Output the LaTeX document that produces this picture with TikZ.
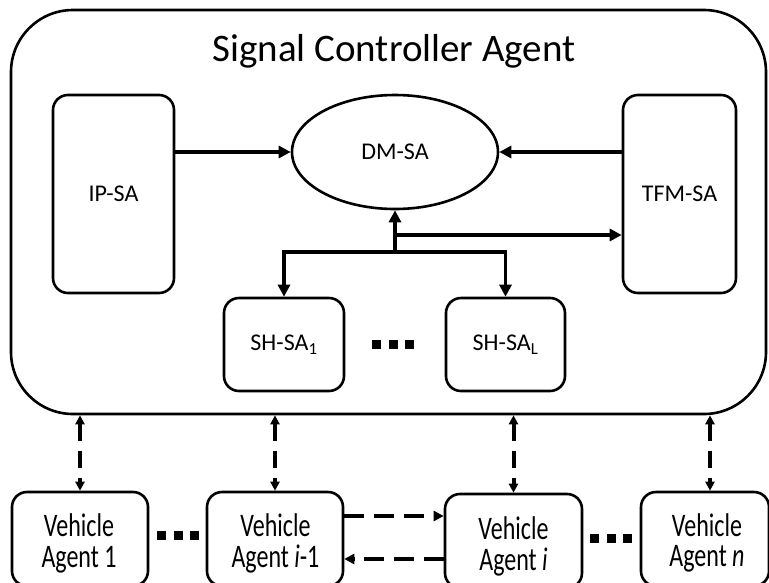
\documentclass[tikz,border=0pt]{standalone}
\usepackage{fontspec}
\setmainfont{Carlito}
\usetikzlibrary{arrows.meta,shapes.geometric}
\newcommand{\vlabel}[1]{\scalebox{1}[1.37]{\begin{tabular}{@{}c@{}}#1\end{tabular}}}
\begin{document}
\begin{tikzpicture}[x=1pt,y=-1pt,
  box/.style={draw, line width=2.6pt, rounded corners=15pt, inner sep=0pt},
  lbl/.style={font=\fontsize{24}{30}\selectfont, align=center},
  vtxt/.style={font=\fontsize{24}{21.7}\selectfont, inner sep=0pt},
  sarrow/.style={line width=3.5pt, -{Triangle[length=12pt,width=12pt]}},
  darrow/.style={line width=4pt, dash pattern=on 17pt off 10pt,
    {Triangle[length=9pt,width=9pt]}-{Triangle[length=9pt,width=9pt]}},
  harrow/.style={line width=4pt, dash pattern=on 20pt off 10pt,
    -{Triangle[length=10pt,width=10pt]}},
  dotsq/.style={fill=black}
]
\useasboundingbox (0,0) rectangle (769,582);
% outer agent
\node[draw, line width=2.6pt, rounded corners=62pt, minimum width=755pt,
      minimum height=404pt, inner sep=0pt] (outer) at (388.5,212) {};
\node[font=\fontsize{39}{45}\selectfont, anchor=base] (title) at (394,61) {Signal Controller Agent};
% inner agents
\node[box, lbl, minimum width=121pt, minimum height=198pt] (ip) at (113.5,194) {IP-SA};
\node[box, lbl, minimum width=113pt, minimum height=198pt] (tfm) at (679.5,194) {TFM-SA};
\node[draw, ellipse, line width=2.6pt, inner sep=0pt, lbl,
      minimum width=206pt, minimum height=114pt] (dm) at (395,152) {DM-SA};
\node[box, lbl, minimum width=120pt, minimum height=93pt] (sh1) at (284,344.5) {SH-SA\textsubscript{1}};
\node[box, lbl, minimum width=119pt, minimum height=93pt] (shL) at (505.5,344.5) {SH-SA\textsubscript{L}};
% connectors inside
\coordinate (jn) at (395,252);
\coordinate (jt) at (395,235);
\draw[sarrow] (ip.east |- dm.west) -- (dm.west);
\draw[sarrow] (tfm.west |- dm.east) -- (dm.east);
\draw[sarrow] (jn) -- (dm.south);
\draw[sarrow] (jt) -- (jt -| tfm.west);
\draw[sarrow] (jn) -| (sh1.north);
\draw[sarrow] (jn) -| (shL.north);
% dots
\foreach \i in {0,1,2} {
  \fill[dotsq] ({372+16.5*\i},339.5) rectangle ++(9,9);
  \fill[dotsq] ({157+16.5*\i},530.5) rectangle ++(9,9);
  \fill[dotsq] ({590+16.5*\i},533.5) rectangle ++(9,9);
}
% vehicle agents
\node[box, minimum width=136pt, minimum height=94pt] (v1) at (80,539) {};
\node[box, minimum width=136pt, minimum height=94pt] (v2) at (275,539) {};
\node[box, minimum width=137pt, minimum height=94pt] (v3) at (513.5,541) {};
\node[box, minimum width=128pt, minimum height=94pt] (v4) at (705,539) {};
\node[vtxt] (v1t) at (79,545) {\vlabel{Vehicle\\Agent 1}};
\node[vtxt] (v2t) at (275.5,545) {\vlabel{Vehicle\\Agent \textit{i}-1}};
\node[vtxt] (v3t) at (513.5,548) {\vlabel{Vehicle\\Agent \textit{i}}};
\node[vtxt] (v4t) at (707,545) {\vlabel{Vehicle\\Agent \textit{n}}};
% vertical dashed links
\draw[darrow] (v1.north |- outer.south) -- (v1.north);
\draw[darrow] (v2.north |- outer.south) -- (v2.north);
\draw[darrow] (v3.north |- outer.south) -- (v3.north);
\draw[darrow] ([xshift=5pt]v4.north |- outer.south) -- ([xshift=5pt]v4.north);
% horizontal dashed links
\coordinate (hyA) at (0,516);
\coordinate (hyB) at (0,559);
\draw[harrow] (v2.east |- hyA) -- (v3.west |- hyA);
\draw[harrow] (v3.west |- hyB) -- (v2.east |- hyB);
\end{tikzpicture}
\end{document}
